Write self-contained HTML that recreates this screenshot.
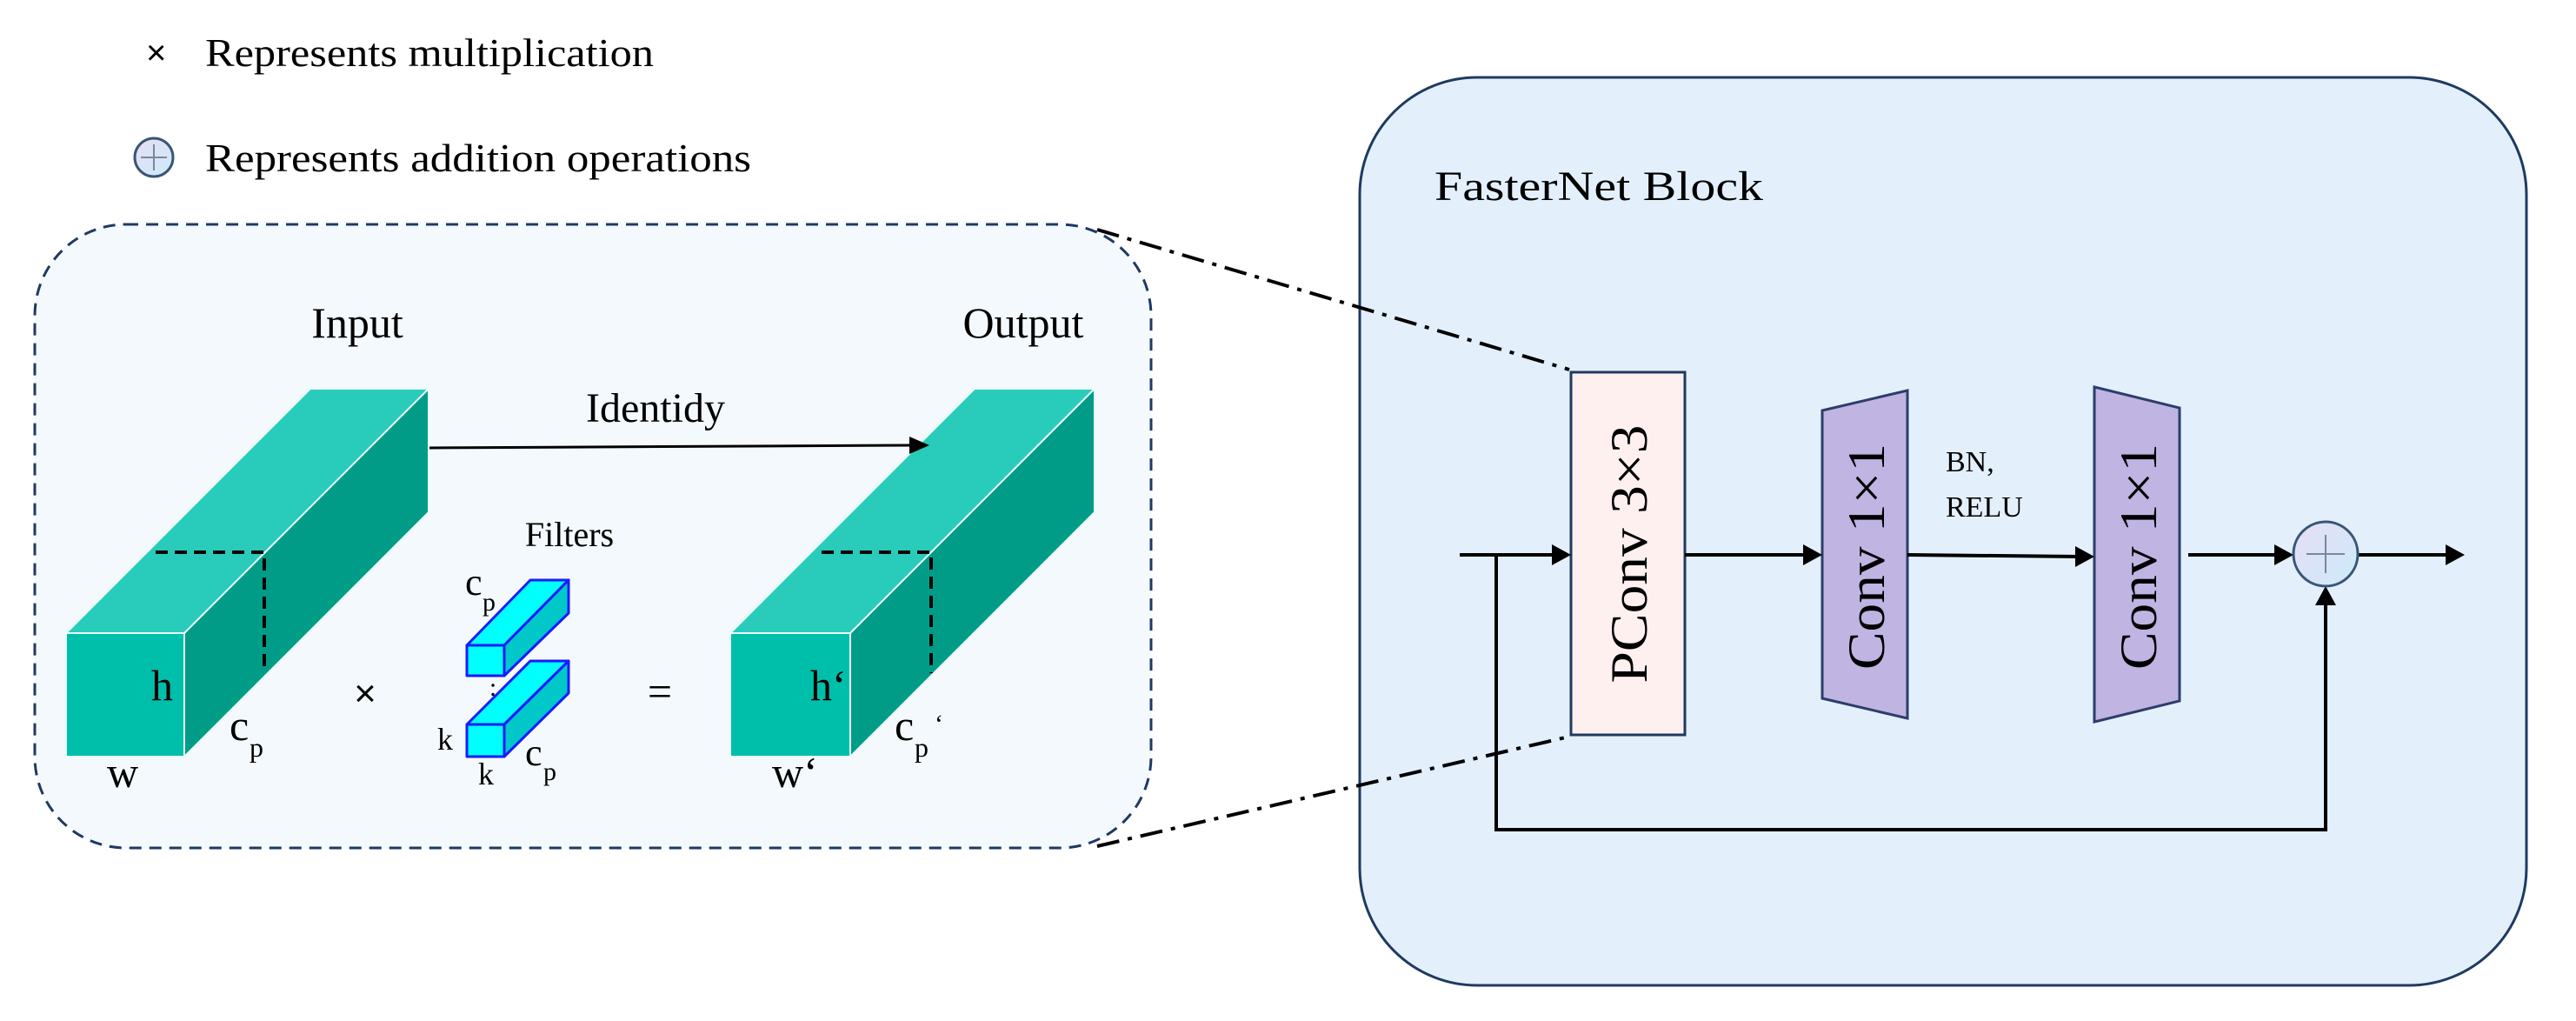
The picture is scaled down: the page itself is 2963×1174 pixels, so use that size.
<!DOCTYPE html>
<html><head><meta charset="utf-8"><style>html,body{margin:0;padding:0;background:#fff}svg{display:block}</style></head>
<body>
<svg width="2963" height="1174" viewBox="0 0 2963 1174" xmlns="http://www.w3.org/2000/svg" font-family="'Liberation Serif', serif">
<defs>
<linearGradient id="cg" x1="0" y1="0" x2="1" y2="1"><stop offset="0" stop-color="#E6DDF5"/><stop offset="1" stop-color="#CDEBFA"/></linearGradient>
</defs>
<!-- legend -->
<text x="168" y="74" font-size="40" font-family="'Liberation Sans',sans-serif">×</text>
<text x="236" y="76" font-size="46" textLength="516" lengthAdjust="spacingAndGlyphs">Represents multiplication</text>
<circle cx="177" cy="181" r="22" fill="url(#cg)" stroke="#3A5575" stroke-width="3"/>
<line x1="162" y1="181" x2="192" y2="181" stroke="#7A8899" stroke-width="2"/>
<line x1="177" y1="166" x2="177" y2="196" stroke="#7A8899" stroke-width="2"/>
<text x="236" y="197" font-size="46" textLength="628" lengthAdjust="spacingAndGlyphs">Represents addition operations</text>

<!-- big box -->
<rect x="1564" y="89" width="1342" height="1044" rx="135" ry="135" fill="#E3F0FC" stroke="#1F3A60" stroke-width="3"/>
<text x="1650" y="230" font-size="48" textLength="378" lengthAdjust="spacingAndGlyphs">FasterNet Block</text>

<!-- dashed box -->
<rect x="40" y="258" width="1284" height="717" rx="105" ry="105" fill="#F4F9FD" stroke="#1F3864" stroke-width="3" stroke-dasharray="14 9"/>

<!-- dash-dot connectors -->
<line x1="1262" y1="264" x2="1805" y2="425" stroke="#000" stroke-width="4" stroke-dasharray="26 10 5 10"/>
<line x1="1262" y1="973" x2="1805" y2="847" stroke="#000" stroke-width="4" stroke-dasharray="26 10 5 10"/>

<!-- input cuboid -->
<polygon points="76,728 212,728 493,447 357,447" fill="#29CBBB" stroke="#E8FFFA" stroke-width="2"/>
<polygon points="212,728 493,447 493,589 212,870" fill="#009C88" stroke="#E8FFFA" stroke-width="2"/>
<rect x="76" y="728" width="136" height="142" fill="#00BFAA" stroke="#E8FFFA" stroke-width="2"/>
<path d="M179,635 H304 V774" fill="none" stroke="#000" stroke-width="4" stroke-dasharray="14 8"/>
<!-- output cuboid -->
<polygon points="840,728 978,728 1259,447 1121,447" fill="#29CBBB" stroke="#E8FFFA" stroke-width="2"/>
<polygon points="978,728 1259,447 1259,589 978,870" fill="#009C88" stroke="#E8FFFA" stroke-width="2"/>
<rect x="840" y="728" width="138" height="142" fill="#00BFAA" stroke="#E8FFFA" stroke-width="2"/>
<path d="M945,635 H1071 V774" fill="none" stroke="#000" stroke-width="4" stroke-dasharray="14 8"/>

<!-- identity arrow -->
<line x1="494" y1="515" x2="1050" y2="512" stroke="#000" stroke-width="3"/>
<polygon points="1069,512 1046,502 1046,522" fill="#000"/>
<text x="754" y="485" font-size="48" text-anchor="middle">Identidy</text>
<text x="411" y="388" font-size="50" text-anchor="middle">Input</text>
<text x="1177" y="388" font-size="50" text-anchor="middle">Output</text>
<text x="655" y="628" font-size="40" text-anchor="middle">Filters</text>

<!-- filters -->
<g stroke="#1A1AFF" stroke-width="3" stroke-linejoin="round">
<polygon points="537,742 580,742 654,667 610,667" fill="#00FFFF"/>
<polygon points="580,742 654,667 654,705 580,777" fill="#00C8C8"/>
<rect x="537" y="742" width="43" height="35" fill="#00FFFF"/>
<polygon points="537,833 580,833 654,760 610,760" fill="#00FFFF"/>
<polygon points="580,833 654,760 654,797 580,870" fill="#00C8C8"/>
<rect x="537" y="833" width="43" height="37" fill="#00FFFF"/>
</g>
<text x="567" y="800" font-size="30" text-anchor="middle">:</text>
<text x="535" y="684" font-size="44">c</text><text x="555" y="702" font-size="30">p</text>
<text x="503" y="862" font-size="36">k</text>
<text x="550" y="902" font-size="36">k</text>
<text x="604" y="880" font-size="44">c</text><text x="625" y="897" font-size="30">p</text>

<!-- labels on cuboids -->
<text x="174" y="805" font-size="50">h</text>
<text x="264" y="851" font-size="50">c</text><text x="287" y="870" font-size="32">p</text>
<text x="123" y="905" font-size="50">w</text>
<text x="420" y="812" font-size="44" text-anchor="middle" font-family="'Liberation Sans',sans-serif">×</text>
<text x="759" y="812" font-size="50" text-anchor="middle">=</text>
<text x="932" y="805" font-size="50">h‘</text>
<text x="1029" y="851" font-size="50">c</text><text x="1052" y="870" font-size="32">p</text><text x="1075" y="842" font-size="30">‘</text>
<text x="888" y="905" font-size="50">w‘</text>

<!-- right block -->
<rect x="1807" y="428" width="131" height="417" fill="#FFF0F0" stroke="#1F3A60" stroke-width="3"/>
<text transform="translate(1894,637) rotate(-90)" font-size="60" text-anchor="middle" textLength="297" lengthAdjust="spacingAndGlyphs">PConv 3×3</text>
<polygon points="2096,472 2194,449 2194,826 2096,803" fill="#BFB4E2" stroke="#2D3D6B" stroke-width="3"/>
<text transform="translate(2167,640) rotate(-90)" font-size="60" text-anchor="middle" textLength="260" lengthAdjust="spacingAndGlyphs">Conv 1×1</text>
<polygon points="2409,445 2507,469 2507,806 2409,830" fill="#BFB4E2" stroke="#2D3D6B" stroke-width="3"/>
<text transform="translate(2480,640) rotate(-90)" font-size="60" text-anchor="middle" textLength="260" lengthAdjust="spacingAndGlyphs">Conv 1×1</text>
<text x="2238" y="542" font-size="34">BN,</text>
<text x="2238" y="594" font-size="34">RELU</text>

<g stroke="#000" stroke-width="4" fill="none">
<line x1="1679" y1="638" x2="1790" y2="638"/>
<line x1="1938" y1="638" x2="2080" y2="638"/>
<line x1="2194" y1="638" x2="2392" y2="640"/>
<line x1="2517" y1="638" x2="2620" y2="638"/>
<line x1="2712" y1="638" x2="2815" y2="638"/>
<path d="M1721,638 V954 H2675 V692"/>
</g>
<g fill="#000">
<polygon points="1807,638 1785,626 1785,650"/>
<polygon points="2096,638 2074,626 2074,650"/>
<polygon points="2409,640 2387,628 2387,652"/>
<polygon points="2638,638 2616,626 2616,650"/>
<polygon points="2835,638 2813,626 2813,650"/>
<polygon points="2675,674 2663,696 2687,696"/>
</g>
<circle cx="2675" cy="637" r="37" fill="url(#cg)" stroke="#3A5575" stroke-width="3"/>
<line x1="2653" y1="637" x2="2697" y2="637" stroke="#7A8899" stroke-width="2"/>
<line x1="2675" y1="615" x2="2675" y2="659" stroke="#7A8899" stroke-width="2"/>
</svg>
</body></html>
